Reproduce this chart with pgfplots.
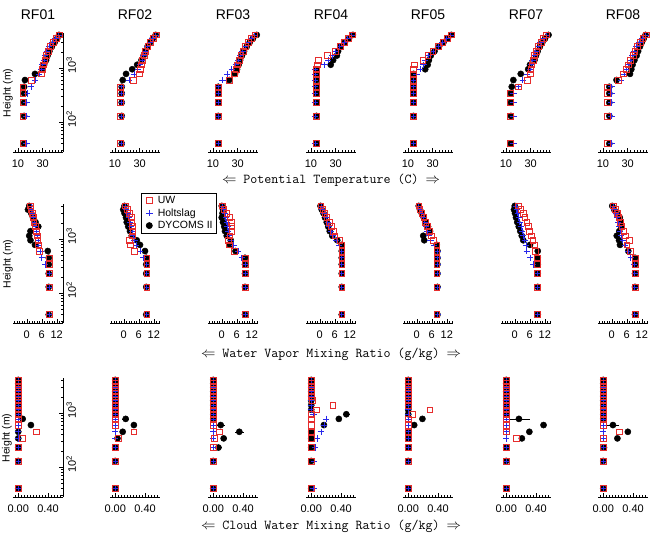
\documentclass[border=0pt]{standalone}
\usepackage{fontspec}
\setmainfont{Liberation Sans}
\usepackage{pgfplots}
\usepackage{pgfplotstable}
\pgfplotsset{compat=1.18}
\definecolor{uwred}{RGB}{230,45,45}
\definecolor{holblue}{RGB}{40,40,235}

% ---------- Row 1: potential temperature (C) ----------
\pgfplotstableread{
z uw hol dyc
40 14.0 16.8 15.0
130 14.0 16.8 15.0
230 14.0 16.8 15.0
340 14.0 17.2 15.0
450 14.0 20.5 15.0
600 21.0 24.0 15.7
780 29.0 27.0 23.8
950 29.7 29.0 29.5
1150 30.6 30.0 31.2
1400 31.7 31.0 32.8
1700 33.0 32.0 34.0
2050 34.5 33.3 35.5
2500 36.5 35.3 37.5
3000 38.7 37.8 39.8
3500 40.9 40.3 41.8
4100 43.5 43.0 43.3
}\tTa
\pgfplotstableread{
z uw hol dyc
40 14.1 15.5 15.5
130 14.1 15.5 15.5
230 14.1 15.5 15.5
340 14.1 15.5 15.5
450 14.1 15.5 15.5
600 24.9 21.5 16.3
780 29.8 25.3 19.0
950 30.5 28.5 24.0
1150 31.3 30.3 28.0
1400 32.3 31.8 31.5
1700 33.5 33.2 33.2
2050 34.9 34.6 34.6
2500 36.7 36.4 36.4
3000 38.8 38.5 38.5
3500 40.8 40.5 40.6
4100 43.3 43.0 43.0
}\tTb
\pgfplotstableread{
z uw hol dyc
40 14.3 14.3 14.3
130 14.3 14.3 14.3
230 14.3 14.3 14.3
340 14.3 14.3 14.3
450 14.3 14.3 14.3
600 23.2 17.9 23.2
780 27.0 21.6 27.9
950 29.0 25.2 29.5
1150 30.0 28.5 30.8
1400 31.2 30.5 32.0
1700 32.6 32.3 33.5
2050 34.3 34.0 35.2
2500 36.4 36.1 37.4
3000 38.8 38.5 39.8
3500 41.1 40.8 42.3
4100 44.0 43.7 45.5
}\tTc
\pgfplotstableread{
z uw hol dyc
40 14.1 13.3 14.5
130 14.1 13.3 14.5
230 14.1 13.3 14.5
340 14.1 13.3 14.5
450 14.1 13.3 14.5
600 14.1 13.3 14.5
780 14.1 13.3 14.5
950 14.1 13.3 14.5
1150 15.0 21.0 26.0
1400 16.0 24.0 28.0
1700 23.5 27.0 31.0
2050 29.9 30.0 32.0
2500 33.6 33.3 34.0
3000 37.1 36.8 37.5
3500 40.0 39.8 40.8
4100 43.3 43.0 44.0
}\tTd
\pgfplotstableread{
z uw hol dyc
40 14.4 14.6 14.6
130 14.4 14.6 14.6
230 14.4 14.6 14.6
340 14.4 14.6 14.6
450 14.4 14.6 14.6
600 14.4 14.6 14.6
780 14.4 17.0 14.6
950 14.4 20.0 24.0
1150 15.0 22.5 26.0
1400 22.0 24.0 27.0
1700 26.1 26.5 28.5
2050 30.2 30.3 31.5
2500 34.4 34.3 35.2
3000 38.3 38.1 38.8
3500 41.6 41.4 42.0
4100 45.0 44.6 45.2
}\tTe
\pgfplotstableread{
z uw hol dyc
40 13.3 16.0 14.0
130 13.3 16.0 14.0
230 13.3 16.0 14.0
340 13.3 16.0 14.0
450 20.0 20.0 14.7
600 27.3 23.6 16.0
780 29.5 27.0 22.0
950 30.2 29.5 28.0
1150 31.0 30.5 29.5
1400 32.1 31.6 33.1
1700 33.3 32.8 34.3
2050 34.7 34.2 35.7
2500 36.5 36.0 37.5
3000 38.5 38.0 39.5
3500 40.6 40.1 41.6
4100 43.0 42.5 44.5
}\tTf
\pgfplotstableread{
z uw hol dyc
40 13.5 17.0 15.2
130 13.5 17.0 15.2
230 13.5 17.0 15.2
340 13.5 17.0 15.2
450 13.5 17.0 15.2
600 22.5 24.5 21.0
780 26.5 27.0 31.9
950 29.2 29.0 33.0
1150 30.8 30.3 34.0
1400 32.5 32.0 35.5
1700 34.3 33.8 37.3
2050 35.8 35.3 38.5
2500 37.8 37.3 40.0
3000 40.0 39.5 41.5
3500 42.3 41.8 43.0
4100 44.9 44.4 44.5
}\tTg

% ---------- Row 2: water vapour mixing ratio (g/kg) ----------
\pgfplotstableread{
z uw hol dyc
40 9.0 9.2 8.8
130 9.0 9.2 8.8
230 9.0 9.2 8.8
340 9.0 7.3 8.8
450 9.0 6.0 8.8
600 5.0 5.5 8.4
780 4.6 4.8 3.3
950 4.4 4.5 1.5
1150 4.1 4.3 1.0
1400 3.7 3.9 1.5
1700 3.3 3.5 4.6
2050 2.8 3.0 3.5
2500 2.5 2.7 2.5
3000 2.2 2.4 1.8
3500 1.6 1.8 0.5
4100 1.5 1.7 1.0
}\tVa
\pgfplotstableread{
z uw hol dyc
40 9.2 9.2 9.0
130 9.2 9.2 9.0
230 9.2 9.2 9.0
340 9.2 9.2 9.0
450 9.2 7.8 9.0
600 4.2 6.5 8.5
780 2.5 4.9 6.5
950 2.2 4.3 5.2
1150 3.5 3.8 3.2
1400 3.6 3.4 2.5
1700 3.4 3.0 1.8
2050 3.2 2.6 1.2
2500 2.9 2.2 0.9
3000 2.2 1.6 0.3
3500 1.5 1.0 -0.2
4100 0.5 0.6 0.3
}\tVb
\pgfplotstableread{
z uw hol dyc
40 9.3 9.3 9.3
130 9.3 9.3 9.3
230 9.3 9.3 9.3
340 9.3 9.3 9.3
450 9.3 8.0 9.3
600 4.9 6.6 5.5
780 3.0 4.8 3.3
950 2.6 3.8 3.6
1150 3.2 3.0 2.0
1400 4.0 2.6 1.3
1700 4.0 2.3 1.0
2050 3.8 2.0 0.5
2500 3.2 1.6 0.0
3000 2.0 1.2 0.3
3500 0.8 0.8 0.5
4100 0.2 0.3 0.0
}\tVc
\pgfplotstableread{
z uw hol dyc
40 8.8 8.8 8.8
130 8.8 8.8 8.8
230 8.8 8.8 8.8
340 8.8 8.8 8.8
450 8.8 8.8 8.8
600 8.8 8.8 8.8
780 8.8 7.8 8.8
950 8.0 6.5 7.0
1150 6.0 5.4 5.0
1400 5.3 4.5 4.0
1700 4.6 3.8 3.4
2050 3.8 3.2 2.8
2500 2.8 2.5 2.1
3000 2.0 1.8 1.5
3500 1.2 1.1 0.8
4100 0.4 0.5 0.3
}\tVd
\pgfplotstableread{
z uw hol dyc
40 8.0 8.3 8.3
130 8.0 8.3 8.3
230 8.0 8.3 8.3
340 8.0 8.3 8.3
450 8.0 8.3 8.3
600 8.0 8.3 8.3
780 8.0 7.0 8.0
950 6.5 5.5 3.0
1150 5.8 4.8 2.6
1400 5.0 4.3 5.3
1700 4.2 3.8 4.5
2050 3.5 3.2 3.6
2500 2.8 2.6 2.8
3000 2.0 2.0 2.0
3500 1.2 1.3 1.3
4100 0.8 0.8 0.8
}\tVe
\pgfplotstableread{
z uw hol dyc
40 9.0 9.0 9.2
130 9.0 9.0 9.2
230 9.0 9.0 9.2
340 9.0 7.4 9.2
450 9.0 6.1 9.2
600 8.1 4.8 9.2
780 7.7 4.5 6.1
950 7.2 4.0 3.4
1150 6.5 3.4 2.8
1400 5.9 3.0 2.2
1700 5.4 2.5 1.6
2050 4.8 2.0 1.0
2500 4.0 1.6 0.5
3000 3.3 1.2 0.1
3500 2.4 0.8 -0.3
4100 1.4 0.5 0.0
}\tVf
\pgfplotstableread{
z uw hol dyc
40 9.3 9.2 9.3
130 9.3 9.2 9.3
230 9.3 9.2 9.3
340 9.3 9.0 9.3
450 9.3 7.6 9.3
600 7.5 6.5 6.6
780 6.0 5.3 3.3
950 7.0 4.4 2.9
1150 5.5 3.8 2.0
1400 4.8 3.4 3.0
1700 4.0 3.0 3.8
2050 3.4 2.6 3.5
2500 2.8 2.2 3.2
3000 2.2 1.6 2.0
3500 1.5 1.0 1.0
4100 0.5 0.5 0.2
}\tVg

% ---------- Row 3: cloud water mixing ratio (g/kg) ----------
\pgfplotstableread{
z uw hol dyc de
40 0 0 0 0
130 0 0 0 0
230 0 0 0 0
340 0.05 0 0 0
450 0.24 0 0 0
600 0 0 0.17 0.02
780 0 0 0.06 0.02
950 0 0 0 0
1150 0 0 0 0
1400 0 0 0 0
1700 0 0 0 0
2050 0 0 0 0
2500 0 0 0 0
3000 0 0 0 0
3500 0 0 0 0
4100 0 0 0 0
}\tCa
\pgfplotstableread{
z uw hol dyc de
40 0 0 0 0
130 0 0 0 0
230 0 0 0 0
340 0.04 0 0.03 0
450 0.25 0 0.10 0
600 0 0 0.25 0.04
780 0 0 0.14 0.05
950 0 0 0 0
1150 0 0 0 0
1400 0 0 0 0
1700 0 0 0 0
2050 0 0 0 0
2500 0 0 0 0
3000 0 0 0 0
3500 0 0 0 0
4100 0 0 0 0
}\tCb
\pgfplotstableread{
z uw hol dyc de
40 0 0 0 0
130 0 0 0 0
230 0 0 0.07 0.05
340 0.02 0 0.14 0.04
450 0.08 0 0.35 0.06
600 0 0 0.10 0.06
780 0 0 0 0
950 0 0 0 0
1150 0 0 0 0
1400 0 0 0 0
1700 0 0 0 0
2050 0 0 0 0
2500 0 0 0 0
3000 0 0 0 0
3500 0 0 0 0
4100 0 0 0 0
}\tCc
\pgfplotstableread{
z uw hol dyc de
40 0 0.03 0 0
130 0 0.04 0 0
230 0 0.05 0 0
340 0 0.08 0 0
450 0 0.13 0 0
600 0 0.17 0.17 0
780 0 0.20 0.37 0
950 0 0.03 0.47 0.05
1150 0.07 0 0 0
1400 0.29 0 0 0
1700 0.02 0 0 0
2050 0 0 0 0
2500 0 0 0 0
3000 0 0 0 0
3500 0 0 0 0
4100 0 0 0 0
}\tCd
\pgfplotstableread{
z uw hol dyc de
40 0 0 0 0
130 0 0 0 0
230 0 0 0 0
340 0 0 0 0
450 0 0 0 0
600 0 0 0.08 0
780 0 0 0.19 0.03
950 0.05 0 0 0
1150 0.29 0 0 0
1400 0 0 0 0
1700 0 0 0 0
2050 0 0 0 0
2500 0 0 0 0
3000 0 0 0 0
3500 0 0 0 0
4100 0 0 0 0
}\tCe
\pgfplotstableread{
z uw hol dyc de
40 0 0 0 0
130 0 0 0 0
230 0 0 0 0
340 0.13 0 0.21 0
450 0 0 0.31 0
600 0 0 0.50 0
780 0 0 0.17 0.15
950 0 0 0 0
1150 0 0 0 0
1400 0 0 0 0
1700 0 0 0 0
2050 0 0 0 0
2500 0 0 0 0
3000 0 0 0 0
3500 0 0 0 0
4100 0 0 0 0
}\tCf
\pgfplotstableread{
z uw hol dyc de
40 0 0 0 0
130 0 0 0 0
230 0 0 0.01 0
340 0 0 0.19 0
450 0.22 0 0.33 0
600 0 0 0.13 0.08
780 0 0 0 0
950 0 0 0 0
1150 0 0 0 0
1400 0 0 0 0
1700 0 0 0 0
2050 0 0 0 0
2500 0 0 0 0
3000 0 0 0 0
3500 0 0 0 0
4100 0 0 0 0
}\tCg

\pgfplotsset{
  mybase/.style={scale only axis, width=50pt, height=119pt,
    ymin=28, ymax=4450,
    axis x line*=bottom, tick align=inside,
    major tick length=4pt, minor tick length=2pt,
    clip=false,
    axis line style={line width=0.6pt},
    every tick/.style={black, line width=0.5pt},
    tick label style={font=\fontsize{11}{13}\selectfont},
    xticklabel style={yshift=-4pt}},
  myfirst/.style={axis y line*=right,
    ytick={100,1000}, yticklabels={10\textsuperscript{2},10\textsuperscript{3}},
    minor ytick={30,40,50,60,70,80,90,200,300,400,500,600,700,800,900,2000,3000,4000},
    yticklabel style={rotate=90, anchor=north, xshift=3pt}},
  myother/.style={hide y axis},
  myT/.style={xmin=6, xmax=46.5, xtick={10,30}, xticklabels={10,30}, minor xtick={7.5,10,...,45}},
  myV/.style={xmin=-5.5, xmax=14.5, xtick={0,6,12}, xticklabels={0,6,12}, minor xtick={-5,-4,...,14}},
  myC/.style={xmin=-0.07, xmax=0.6, xtick={0,0.4}, xticklabels={0.00,0.40}, minor xtick={-0.04,0,...,0.56}},
  sUW/.style={only marks, mark=square, mark size=2.9pt, color=uwred,
    mark options={line width=0.65pt, draw=uwred, fill=none}},
  sHol/.style={only marks, mark=+, mark size=3.2pt, color=holblue,
    mark options={line width=0.65pt, draw=holblue}},
  sDyc/.style={only marks, mark=*, mark size=3.1pt, color=black,
    mark options={draw=black, fill=black}},
}

\newcommand{\panel}[5]{%
\begin{axis}[ymode=log,mybase,#3,#4,at={(#1pt,-#2pt)},anchor=south west]
\addplot[sDyc] table[x=dyc,y=z]{#5};
\addplot[sHol] table[x=hol,y=z]{#5};
\addplot[sUW] table[x=uw,y=z]{#5};
\end{axis}}

\newcommand{\cpanel}[4]{%
\begin{axis}[ymode=log,mybase,myC,#3,at={(#1pt,-#2pt)},anchor=south west]
\addplot[sDyc, error bars/.cd, x dir=both, x explicit, error mark=none,
  error bar style={black, line width=0.6pt}] table[x=dyc,y=z,x error=de]{#4};
\addplot[sHol] table[x=hol,y=z]{#4};
\addplot[sUW] table[x=uw,y=z]{#4};
\end{axis}}

\begin{document}
\begin{tikzpicture}
\useasboundingbox (0,0) rectangle (656pt,-536pt);

% titles
\foreach \cx/\ttl in {38/RF01,135/RF02,233/RF03,331/RF04,428/RF05,526/RF07,623/RF08}{
  \node[font=\fontsize{14}{16}\selectfont] at (\cx pt,-15pt) {\ttl};}

% row 1
\panel{13}{152}{myT}{myfirst}{\tTa}
\panel{110}{152}{myT}{myother}{\tTb}
\panel{208}{152}{myT}{myother}{\tTc}
\panel{306}{152}{myT}{myother}{\tTd}
\panel{403}{152}{myT}{myother}{\tTe}
\panel{501}{152}{myT}{myother}{\tTf}
\panel{598}{152}{myT}{myother}{\tTg}

% row 2
\panel{13}{323}{myV}{myfirst}{\tVa}
\begin{axis}[ymode=log,mybase,myV,myother,at={(110pt,-323pt)},anchor=south west,
  reverse legend,
  legend style={at={(0.62,1.092)}, anchor=north west, draw=black, line width=0.6pt,
    font=\fontsize{10.5}{12.5}\selectfont, inner xsep=1.5pt, inner ysep=1pt,
    row sep=-0.5pt, cells={anchor=west}},
  legend image code/.code={\path[draw=none,fill=none] (0pt,-2pt) (13pt,2pt);
    \draw[#1] plot coordinates {(6.5pt,0pt)};}]
\addplot[sDyc] table[x=dyc,y=z]{\tVb};
\addlegendentry{DYCOMS II}
\addplot[sHol] table[x=hol,y=z]{\tVb};
\addlegendentry{Holtslag}
\addplot[sUW] table[x=uw,y=z]{\tVb};
\addlegendentry{UW}
\end{axis}
\panel{208}{323}{myV}{myother}{\tVc}
\panel{306}{323}{myV}{myother}{\tVd}
\panel{403}{323}{myV}{myother}{\tVe}
\panel{501}{323}{myV}{myother}{\tVf}
\panel{598}{323}{myV}{myother}{\tVg}

% row 3
\cpanel{13}{497}{myfirst}{\tCa}
\cpanel{110}{497}{myother}{\tCb}
\cpanel{208}{497}{myother}{\tCc}
\cpanel{306}{497}{myother}{\tCd}
\cpanel{403}{497}{myother}{\tCe}
\cpanel{501}{497}{myother}{\tCf}
\cpanel{598}{497}{myother}{\tCg}

% axis titles
\node[rotate=90, font=\fontsize{10.5}{12}\selectfont] at (8pt,-93pt) {Height (m)};
\node[rotate=90, font=\fontsize{10.5}{12}\selectfont] at (8pt,-264pt) {Height (m)};
\node[rotate=90, font=\fontsize{10.5}{12}\selectfont] at (7pt,-438pt) {Height (m)};

\node[font=\fontsize{13.6}{15}\ttfamily] at (331pt,-180pt) {$\Leftarrow$ Potential Temperature (C) $\Rightarrow$};
\node[font=\fontsize{13.6}{15}\ttfamily] at (331pt,-354pt) {$\Leftarrow$ Water Vapor Mixing Ratio (g/kg) $\Rightarrow$};
\node[font=\fontsize{13.6}{15}\ttfamily] at (331pt,-526pt) {$\Leftarrow$ Cloud Water Mixing Ratio (g/kg) $\Rightarrow$};
\end{tikzpicture}
\end{document}
